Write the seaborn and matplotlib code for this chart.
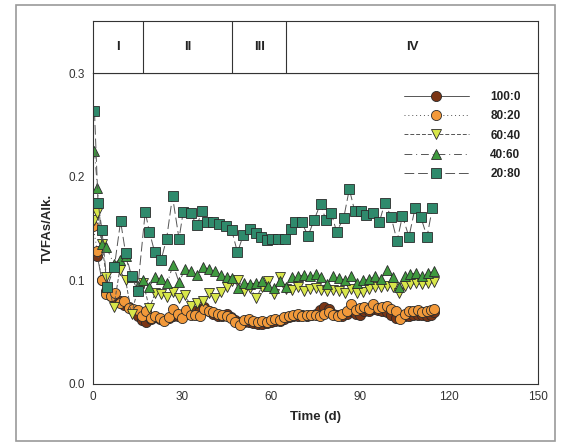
import matplotlib
matplotlib.use("Agg")
import matplotlib.pyplot as plt
from matplotlib.lines import Line2D
from matplotlib.patches import Rectangle
import seaborn as sns
import pandas as pd

sns.set_theme(style="white")
plt.rcParams["font.family"] = ["Liberation Sans", "DejaVu Sans"]

# ---- data -------------------------------------------------------------
days_circ = [0, 1.5, 3, 4.5, 6, 7.5, 9, 10.5, 12, 13.5, 15, 16.5, 18, 19.5, 21, 22.5,
             24, 25.5, 27, 28.5, 30, 31.5, 33, 34.5, 36, 37.5, 39, 40.5, 42, 43.5,
             45, 46.5, 48, 49.5, 51, 52.5, 54, 55.5, 57, 58.5, 60, 61.5, 63, 64.5,
             66, 67.5, 69, 70.5, 72, 73.5, 75, 76.5, 78, 79.5, 81, 82.5, 84, 85.5,
             87, 88.5, 90, 91.5, 93, 94.5, 96, 97.5, 99, 100.5, 102, 103.5, 105,
             106.5, 108, 109.5, 111, 112.5, 114, 115]

r100_0 = [0.126, 0.123, 0.100, 0.090, 0.085, 0.082, 0.080, 0.076, 0.074, 0.071, 0.066,
          0.062, 0.060, 0.063, 0.065, 0.063, 0.062, 0.064, 0.066, 0.066, 0.066, 0.068,
          0.069, 0.070, 0.071, 0.074, 0.070, 0.068, 0.066, 0.066, 0.068, 0.065, 0.062,
          0.060, 0.060, 0.060, 0.059, 0.058, 0.058, 0.059, 0.060, 0.061, 0.061, 0.063,
          0.065, 0.066, 0.066, 0.067, 0.066, 0.067, 0.068, 0.071, 0.074, 0.072, 0.068,
          0.067, 0.066, 0.068, 0.070, 0.068, 0.067, 0.070, 0.070, 0.072, 0.071, 0.070,
          0.069, 0.067, 0.064, 0.066, 0.066, 0.066, 0.067, 0.067, 0.067, 0.066, 0.067,
          0.069]

r80_20 = [0.152, 0.128, 0.100, 0.087, 0.085, 0.088, 0.078, 0.080, 0.073, 0.072, 0.071,
          0.066, 0.070, 0.064, 0.066, 0.064, 0.061, 0.065, 0.072, 0.068, 0.064, 0.071,
          0.067, 0.067, 0.066, 0.072, 0.070, 0.069, 0.068, 0.067, 0.066, 0.064, 0.060,
          0.057, 0.062, 0.063, 0.061, 0.060, 0.061, 0.060, 0.062, 0.063, 0.062, 0.065,
          0.066, 0.067, 0.068, 0.066, 0.067, 0.067, 0.067, 0.066, 0.068, 0.069, 0.067,
          0.066, 0.068, 0.070, 0.077, 0.071, 0.073, 0.074, 0.072, 0.077, 0.073, 0.074,
          0.075, 0.072, 0.070, 0.063, 0.068, 0.070, 0.070, 0.071, 0.069, 0.070, 0.071,
          0.072]

days_tri = [0.5, 1.5, 3, 4.5, 7, 9, 11, 13, 15, 17, 19, 21, 23, 25, 27, 29, 31, 33,
            35, 37, 39, 41, 43, 45, 47, 49, 51, 53, 55, 57, 59, 61, 63, 65, 67, 69,
            71, 73, 75, 77, 79, 81, 83, 85, 87, 89, 91, 93, 95, 97, 99, 101, 103,
            105, 107, 109, 111, 113, 115]

r60_40 = [0.158, 0.165, 0.135, 0.103, 0.074, 0.110, 0.100, 0.068, 0.090, 0.097, 0.073,
          0.088, 0.087, 0.084, 0.089, 0.083, 0.086, 0.075, 0.078, 0.080, 0.088, 0.083,
          0.089, 0.094, 0.099, 0.100, 0.090, 0.093, 0.083, 0.094, 0.099, 0.087, 0.103,
          0.092, 0.091, 0.094, 0.090, 0.092, 0.093, 0.091, 0.090, 0.091, 0.090, 0.088,
          0.092, 0.088, 0.089, 0.092, 0.094, 0.094, 0.095, 0.094, 0.088, 0.095, 0.096,
          0.097, 0.096, 0.097, 0.098]

r40_60 = [0.225, 0.189, 0.135, 0.132, 0.116, 0.120, 0.123, 0.103, 0.095, 0.100, 0.094,
          0.103, 0.101, 0.097, 0.115, 0.098, 0.111, 0.109, 0.105, 0.113, 0.111, 0.109,
          0.105, 0.103, 0.102, 0.093, 0.097, 0.096, 0.097, 0.099, 0.095, 0.093, 0.099,
          0.094, 0.103, 0.104, 0.105, 0.104, 0.106, 0.103, 0.096, 0.104, 0.102, 0.100,
          0.104, 0.097, 0.100, 0.101, 0.104, 0.101, 0.110, 0.103, 0.094, 0.104, 0.106,
          0.107, 0.104, 0.107, 0.109]

days_sq = [0.5, 1.7, 3, 4.8, 7.2, 9.3, 11, 13, 15, 17.6, 19, 20.8, 23, 24.8, 26.8, 29,
           30.4, 32.9, 35, 36.8, 38.5, 40.3, 42.5, 44.7, 46.7, 48.7, 50.7, 52.8, 54.8,
           56.6, 58.5, 60.3, 62.2, 64.6, 66.7, 68.2, 70.3, 72.5, 74.5, 76.7, 78.5,
           80.3, 82.1, 84.5, 86.4, 88.2, 90.2, 92, 94.4, 96.5, 98.4, 100.5, 102.5,
           104.3, 106.5, 108.6, 110.5, 112.6, 114.4]

r20_80 = [0.263, 0.175, 0.149, 0.094, 0.113, 0.157, 0.126, 0.104, 0.090, 0.166, 0.147,
          0.127, 0.120, 0.140, 0.181, 0.140, 0.166, 0.165, 0.153, 0.167, 0.156, 0.156,
          0.154, 0.152, 0.149, 0.127, 0.144, 0.150, 0.146, 0.142, 0.139, 0.140, 0.140,
          0.140, 0.150, 0.156, 0.156, 0.143, 0.158, 0.174, 0.158, 0.165, 0.147, 0.160,
          0.188, 0.167, 0.167, 0.163, 0.165, 0.156, 0.175, 0.161, 0.138, 0.162, 0.142,
          0.170, 0.161, 0.142, 0.170]

phase_names = ["I", "II", "III", "IV"]
phase_edges = [0, 17, 47, 65, 150]

# ---- series styling ---------------------------------------------------
series = [
    ("100:0", days_circ, r100_0, "o", "#7b3514", "-"),
    ("80:20", days_circ, r80_20, "o", "#f2993a", (0, (1, 3))),
    ("60:40", days_tri, r60_40, "v", "#d8e64a", (0, (4, 2))),
    ("40:60", days_tri, r40_60, "^", "#3f9a3f", (0, (8, 4, 1, 4))),
    ("20:80", days_sq, r20_80, "s", "#2f8a6c", (0, (10, 4))),
]

fig = plt.figure(figsize=(5.63, 4.46), dpi=100)
fig.patch.set_facecolor("white")

# outer frame
fig.patches.append(Rectangle((16 / 563, 1 - 441 / 446), (555 - 16) / 563, (441 - 5) / 446,
                             transform=fig.transFigure, fill=False,
                             edgecolor="#9a9a9a", linewidth=1.2))

ax = fig.add_axes([93 / 563, 1 - 384 / 446, (538 - 93) / 563, (384 - 73) / 446])
band = fig.add_axes([93 / 563, 1 - 73 / 446, (538 - 93) / 563, (73 - 21) / 446])

handles = []
for name, xs, ys, mk, col, ls in series:
    df = pd.DataFrame({"Time": xs, "Ratio": ys})
    sns.lineplot(data=df, x="Time", y="Ratio", ax=ax, estimator=None, sort=False,
                 color="#555555", linewidth=0.7, linestyle=ls,
                 marker=mk, markersize=7.3, markerfacecolor=col,
                 markeredgecolor="#2a2a2a", markeredgewidth=0.6)
    handles.append(Line2D([], [], color="#555555", linewidth=0.7, linestyle=ls,
                          marker=mk, markersize=7.3, markerfacecolor=col,
                          markeredgecolor="#2a2a2a", markeredgewidth=0.6, label=name))

ax.set_xlim(0, 150)
ax.set_ylim(0, 0.3)
ax.set_xticks([0, 30, 60, 90, 120, 150])
ax.set_yticks([0.0, 0.1, 0.2, 0.3])
ax.set_yticklabels(["0.0", "0.1", "0.2", "0.3"])
ax.tick_params(axis="x", direction="in", length=3, width=0.8, labelsize=8.5,
               colors="#333333", pad=5)
ax.tick_params(axis="y", direction="out", length=3, width=0.8, labelsize=8.5,
               colors="#333333", pad=3)
ax.set_xlabel("Time (d)", fontsize=9.5, fontweight="bold", labelpad=6)
ax.set_ylabel("TVFAs/Alk.", fontsize=9.5, fontweight="bold", labelpad=10)
for sp in ax.spines.values():
    sp.set_visible(True)
    sp.set_color("#333333")
    sp.set_linewidth(0.8)

leg = ax.legend(handles=handles, loc="upper right", bbox_to_anchor=(0.985, 0.975),
                frameon=False, handlelength=5.5, handletextpad=1.8,
                labelspacing=0.6, fontsize=8.5, numpoints=1)
for t in leg.get_texts():
    t.set_fontweight("bold")
    t.set_color("#222222")

# phase band above the plot
band.set_xlim(0, 150)
band.set_ylim(0, 1)
band.set_xticks([])
band.set_yticks([])
for sp in band.spines.values():
    sp.set_visible(True)
    sp.set_color("#333333")
    sp.set_linewidth(0.8)
for edge in phase_edges[1:-1]:
    band.axvline(edge, color="#333333", linewidth=0.8)
for name, lo, hi in zip(phase_names, phase_edges[:-1], phase_edges[1:]):
    band.text((lo + hi) / 2, 0.5, name, ha="center", va="center",
              fontsize=9.5, fontweight="bold", color="#222222")

fig.savefig("out.png", dpi=100)
